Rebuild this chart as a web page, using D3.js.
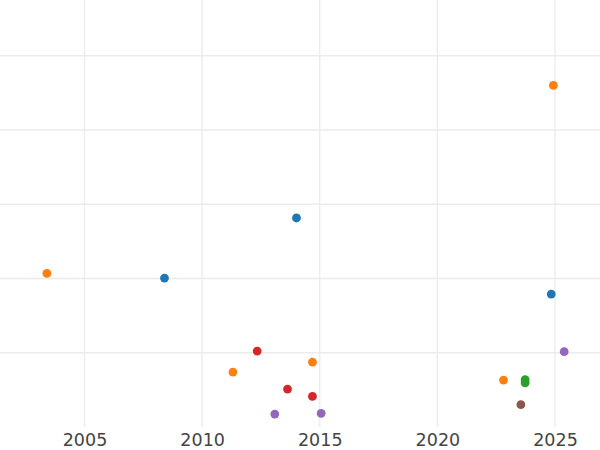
<!DOCTYPE html>
<html>
<head>
<meta charset="utf-8">
<script src="https://cdn.jsdelivr.net/npm/d3@7"></script>
<style>
  html, body { margin: 0; padding: 0; background: #fff; }
  svg { display: block; }
</style>
</head>
<body>
<svg id="chart" width="600" height="450"></svg>
<script>
// Data (x = year, y = value, c = color group)
const years  = [2024.93, 2014.01, 2003.40, 2008.40, 2024.84, 2025.39, 2012.34, 2011.31, 2013.63, 2013.09, 2014.69, 2014.69, 2015.06, 2022.81, 2023.73, 2023.73, 2023.55];
const values = [4.60,    2.815,   2.069,   2.006,   1.79,    1.015,   1.023,   0.74,    0.511,   0.174,   0.875,   0.412,   0.184,   0.632,   0.637,   0.595,   0.301];
const groups = ["orange","blue","orange","blue","blue","purple","red","orange","red","purple","orange","red","purple","orange","green","green","brown"];
const xTicks = [2005, 2010, 2015, 2020, 2025];
const yTicks = [1, 2, 3, 4, 5];
const groupNames  = ["blue","orange","green","red","purple","brown"];
const groupColors = ["#1f77b4","#ff7f0e","#2ca02c","#d62728","#9467bd","#8c564b"];

const W = 600, H = 450;
const plot = {left: 0, right: 600, top: 0, bottom: 427};
const svg = d3.select("#chart");

// x: 2005 -> 84.5, 2025 -> 555
const pxPerYear = (555 - 84.5) / 20;
const x = d3.scaleLinear()
  .domain([2005 - 84.5 / pxPerYear, 2005 + (600 - 84.5) / pxPerYear])
  .range([plot.left, plot.right]);
const y = d3.scaleLinear()
  .domain([0, 427 / 74.25])
  .range([plot.bottom, plot.top]);
const color = d3.scaleOrdinal().domain(groupNames).range(groupColors);

// Gridlines
const gy = svg.append("g").attr("class", "ygrid");
gy.selectAll("line").data(yTicks).join("line")
  .attr("x1", plot.left).attr("x2", plot.right)
  .attr("y1", d => y(d)).attr("y2", d => y(d))
  .attr("stroke", "#ebebeb").attr("stroke-width", 1.6);

const gx = svg.append("g").attr("class", "xgrid");
gx.selectAll("line").data(xTicks).join("line")
  .attr("x1", d => x(d)).attr("x2", d => x(d))
  .attr("y1", plot.top).attr("y2", plot.bottom)
  .attr("stroke", "#ebebeb").attr("stroke-width", 1.3);

// X axis labels
const xAxis = d3.axisBottom(x).tickValues(xTicks).tickFormat(d3.format("d")).tickSize(0).tickPadding(7);
const axG = svg.append("g").attr("transform", `translate(0,${plot.bottom})`).call(xAxis);
axG.select(".domain").remove();
axG.selectAll("text")
  .attr("fill", "#444")
  .style("font-family", "DejaVu Sans, sans-serif")
  .style("font-size", "17.5px");

// Points
const pts = years.map((yr, i) => ({x: yr, y: values[i], g: groups[i]}));
svg.append("g").selectAll("circle").data(pts).join("circle")
  .attr("cx", d => x(d.x))
  .attr("cy", d => y(d.y))
  .attr("r", 4.4)
  .attr("fill", d => color(d.g));
</script>
</body>
</html>
